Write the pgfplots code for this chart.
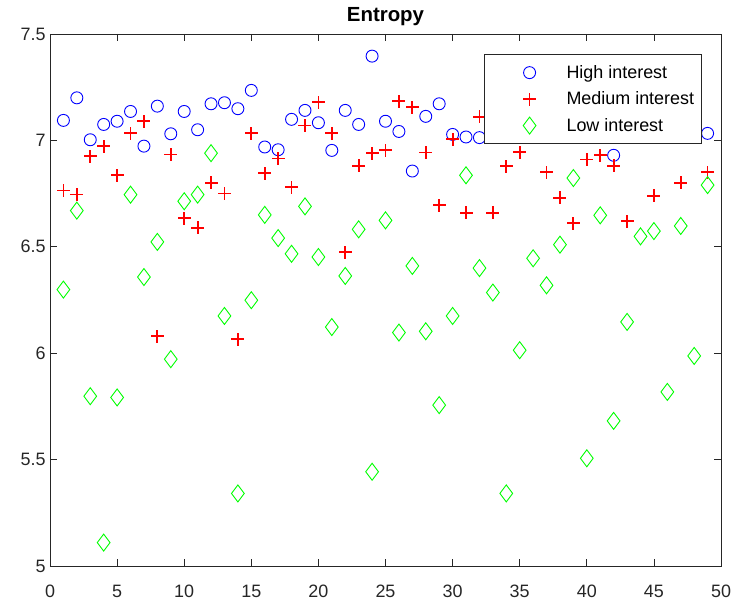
\documentclass[border=0pt]{standalone}
\usepackage{fontspec}
\setmainfont{Liberation Sans}
\usepackage{pgfplots}
\pgfplotsset{compat=1.18}
\definecolor{axgray}{RGB}{38,38,38}
\definecolor{mblue}{RGB}{0,0,255}
\definecolor{mred}{RGB}{255,0,0}
\definecolor{mgreen}{RGB}{0,255,0}
\pgfdeclareplotmark{mplus}{%
  \pgfsetfillcolor{mred}%
  \pgfpathrectanglecorners{\pgfqpoint{-\pgfplotmarksize}{-0.9bp}}{\pgfqpoint{\pgfplotmarksize}{0.9bp}}%
  \pgfusepathqfill
  \pgfpathrectanglecorners{\pgfqpoint{-0.9bp}{-\pgfplotmarksize}}{\pgfqpoint{0.9bp}{\pgfplotmarksize}}%
  \pgfusepathqfill}
\pgfplotsset{
  mylegimg/.style={legend image code/.code={\path (0bp,0bp) (74bp,0bp); \draw[##1] plot coordinates {(37.5bp,0bp)};}}
}
\begin{document}
\begin{tikzpicture}
\useasboundingbox (-50bp,-34bp) rectangle (685bp,566bp);
\begin{axis}[
  at={(0,0)}, anchor=south west,
  scale only axis, width=671bp, height=532bp,
  xmin=0, xmax=50, ymin=5, ymax=7.5,
  xtick={0,5,10,15,20,25,30,35,40,45,50},
  ytick={5,5.5,6,6.5,7,7.5},
  tick align=inside,
  major tick length=6.7bp,
  axis line style={axgray, line width=0.8bp},
  tick style={axgray, line width=0.8bp},
  ticklabel style={font=\fontsize{18}{20}\selectfont, text=axgray},
  /pgf/number format/assume math mode=true,
  xticklabel style={anchor=base, yshift=-31bp},
  yticklabel style={anchor=east, xshift=-1bp},
  title={Entropy},
  title style={font=\fontsize{20.5}{22}\selectfont\bfseries, at={(0.5,1)}, anchor=base, yshift=7bp},
  legend cell align=left,
  legend style={at={(rel axis cs:1,1)}, anchor=north east, xshift=-19bp, yshift=-20bp,
    draw=axgray, line width=0.8bp, fill=white, font=\fontsize{18}{20}\selectfont,
    inner xsep=7.5bp, inner ysep=9bp, row sep=8bp, column sep=0bp,
    nodes={inner xsep=0bp}},
]
\addplot[only marks, mylegimg, mark=o, mark size=6bp, color=mblue, mark options={draw=mblue}, line width=0.9bp] coordinates {
(1,7.094) (2,7.200) (3,7.003) (4,7.075) (5,7.090) (6,7.136) (7,6.973) (8,7.161) (9,7.031) (10,7.136)
(11,7.050) (12,7.172) (13,7.177) (14,7.149) (15,7.235) (16,6.969) (17,6.956) (18,7.099) (19,7.141) (20,7.083)
(21,6.953) (22,7.141) (23,7.075) (24,7.396) (25,7.090) (26,7.042) (27,6.856) (28,7.113) (29,7.172) (30,7.028)
(31,7.016) (32,7.013) (42,6.930) (49,7.033)
};
\addlegendentry{High interest}
\addplot[only marks, mylegimg, mark=mplus, mark size=6.5bp, color=mred, mark options={fill=mred, draw=none}] coordinates {
(1,6.765) (2,6.746) (3,6.925) (4,6.973) (5,6.836) (6,7.033) (7,7.090) (8,6.080) (9,6.934) (10,6.634)
(11,6.590) (12,6.800) (13,6.750) (14,6.066) (15,7.033) (16,6.845) (17,6.915) (18,6.780) (19,7.070) (20,7.180)
(21,7.033) (22,6.474) (23,6.880) (24,6.940) (25,6.953) (26,7.185) (27,7.156) (28,6.943) (29,6.695) (30,7.005)
(31,6.660) (32,7.110) (33,6.660) (34,6.878) (35,6.944) (37,6.850) (38,6.730) (39,6.610) (40,6.910)
(41,6.930) (42,6.880) (43,6.620) (45,6.740) (47,6.800) (49,6.850)
};
\addlegendentry{Medium interest}
\addplot[only marks, mylegimg, mark=diamond, mark size=8.5bp, color=mgreen, mark options={draw=mgreen}, line width=0.9bp] coordinates {
(1,6.299) (2,6.670) (3,5.798) (4,5.110) (5,5.792) (6,6.745) (7,6.358) (8,6.523) (9,5.972) (10,6.714)
(11,6.745) (12,6.940) (13,6.175) (14,5.341) (15,6.249) (16,6.650) (17,6.541) (18,6.467) (19,6.690) (20,6.452)
(21,6.123) (22,6.363) (23,6.582) (24,5.443) (25,6.624) (26,6.097) (27,6.410) (28,6.103) (29,5.756) (30,6.175)
(31,6.836) (32,6.400) (33,6.285) (34,5.341) (35,6.014) (36,6.446) (37,6.319) (38,6.510) (39,6.823) (40,5.506)
(41,6.648) (42,5.682) (43,6.147) (44,6.549) (45,6.574) (46,5.818) (47,6.598) (48,5.987) (49,6.790)
};
\addlegendentry{Low interest}
\end{axis}
\end{tikzpicture}
\end{document}
